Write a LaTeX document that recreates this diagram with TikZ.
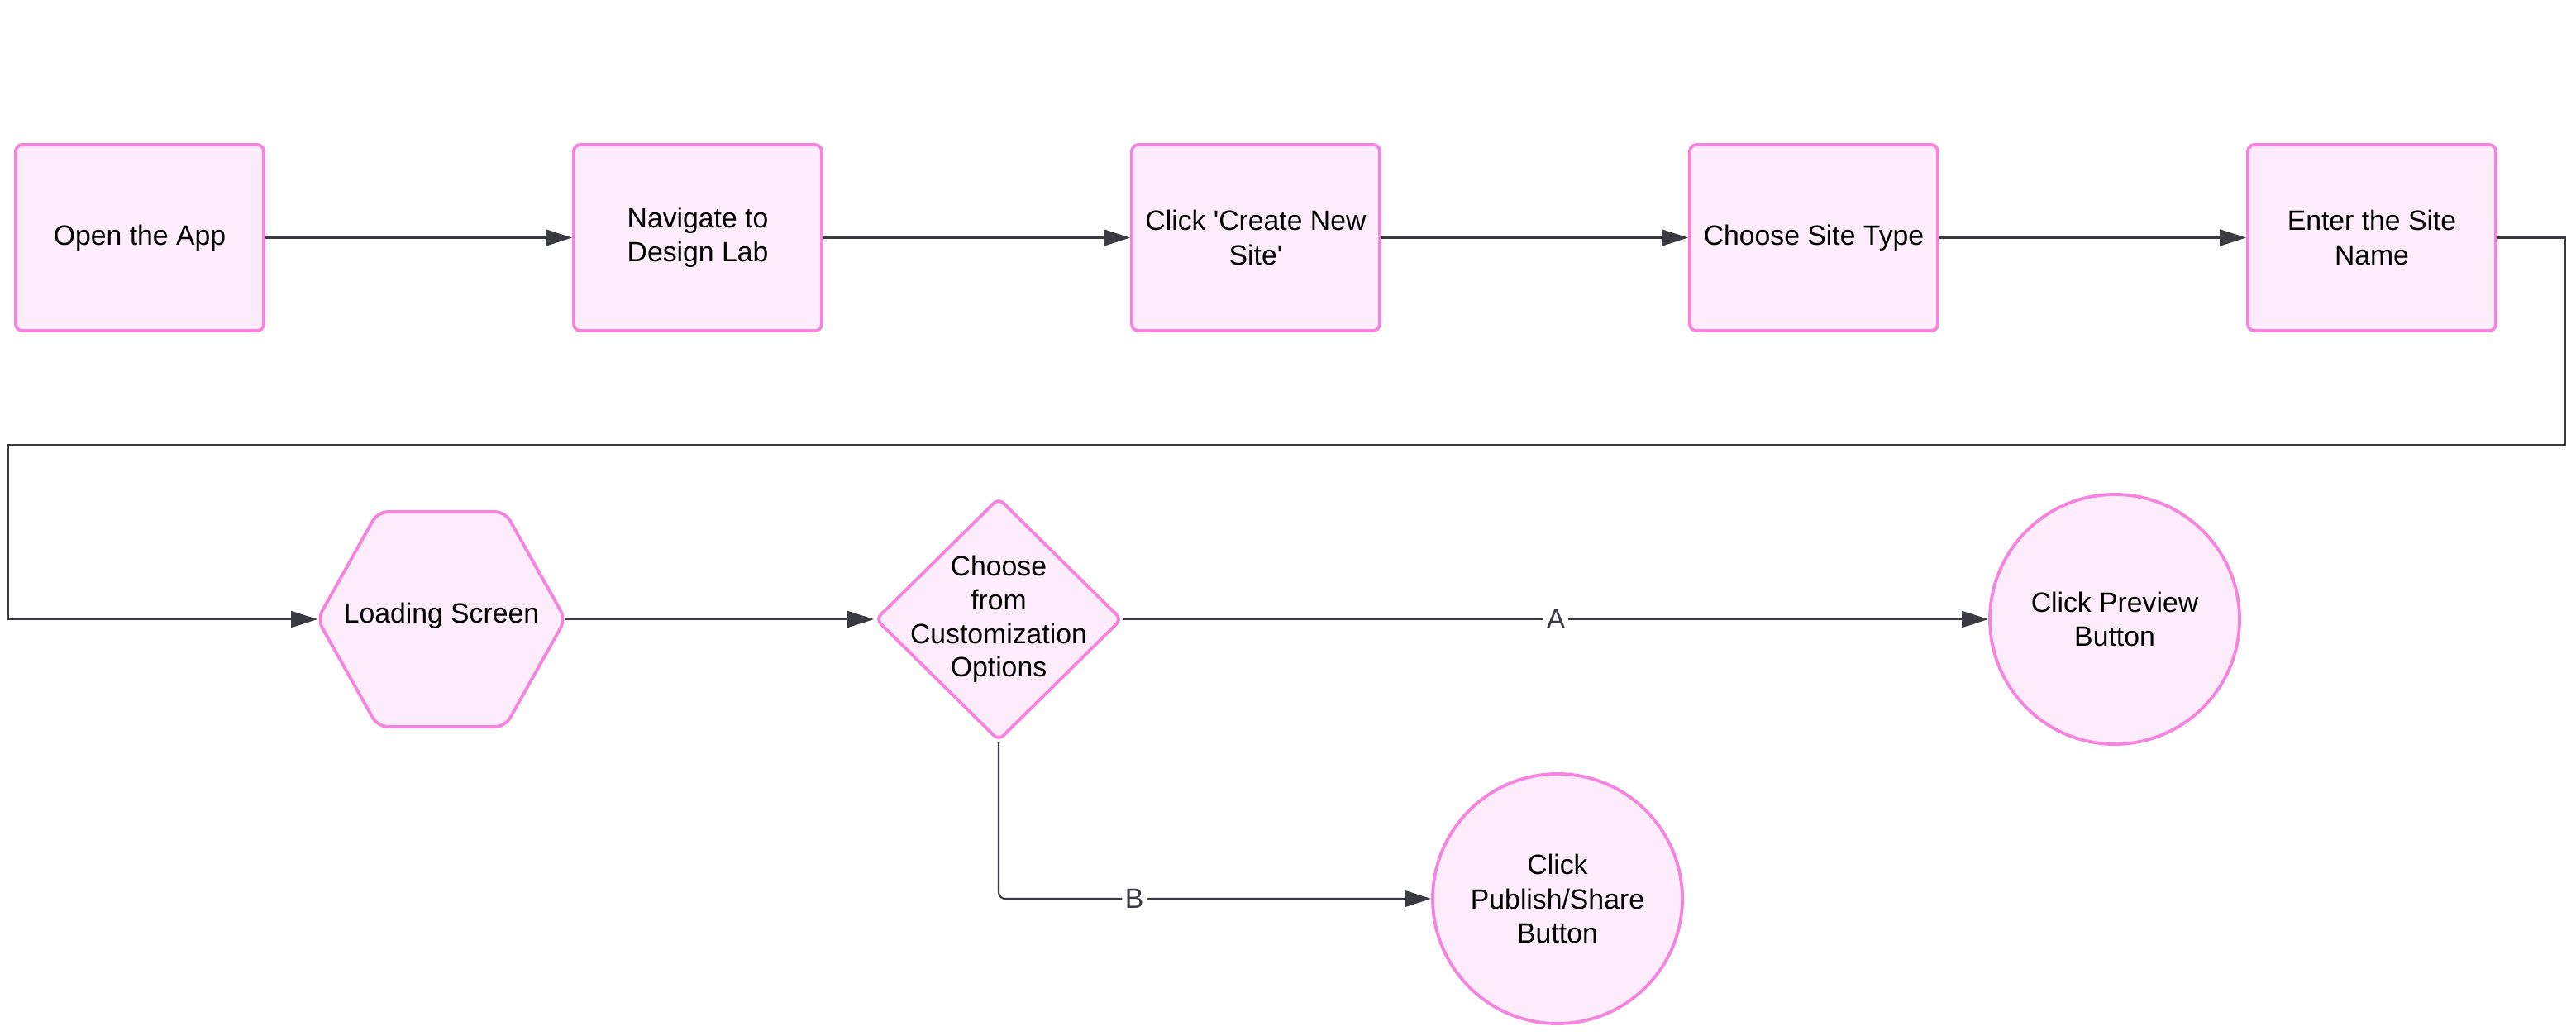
\documentclass[tikz,border=0pt]{standalone}
\usepackage{fontspec}
\setmainfont{Liberation Sans}
\usetikzlibrary{shapes.geometric,arrows.meta}
\definecolor{pinkline}{RGB}{245,132,222}
\definecolor{pinkfill}{RGB}{253,237,252}
\definecolor{edgecol}{RGB}{58,58,66}
\tikzset{
  txt/.style={font=\fontsize{9.6pt}{11.8pt}\selectfont, align=center, text=black},
  shapebase/.style={txt, draw=pinkline, fill=pinkfill, line width=1.1pt},
  procbox/.style={shapebase, rectangle, rounded corners=0.08cm, minimum width=3.0cm, minimum height=2.25cm, inner sep=0pt},
  hexframe/.style={txt, rectangle, minimum width=3.0cm, minimum height=2.6cm, inner sep=0pt, outer sep=0pt},
  hexline/.style={draw=pinkline, fill=pinkfill, line width=1.1pt, rounded corners=0.12cm},
  decbox/.style={shapebase, diamond, minimum width=2.98cm, minimum height=2.94cm, inner sep=0pt, rounded corners=0.08cm},
  endcirc/.style={shapebase, circle, minimum size=3.02cm, inner sep=0pt},
  flow/.style={draw=edgecol, line width=0.6pt, -{Triangle[length=0.32cm, width=0.2cm]}},
  edgelabel/.style={fill=white, inner sep=1pt, text=edgecol, font=\fontsize{9.6pt}{11.8pt}\selectfont}
}
\begin{document}
\begin{tikzpicture}
\useasboundingbox (0,0) rectangle (31.16,-12.52);
\node[procbox] (n1) at (1.69,-2.875) {Open the App};
\node[procbox] (n2) at (8.44,-2.875) {Navigate to\\Design Lab};
\node[procbox] (n3) at (15.19,-2.875) {Click \textquotesingle Create New\\Site\textquotesingle};
\node[procbox] (n4) at (21.94,-2.875) {Choose Site Type};
\node[procbox] (n5) at (28.69,-2.875) {Enter the Site\\Name};
\node[hexframe] (hx) at (5.34,-7.49) {};
\draw[hexline] (hx.west) -- ([xshift=0.73cm]hx.north west) -- ([xshift=-0.73cm]hx.north east) -- (hx.east) -- ([xshift=-0.73cm]hx.south east) -- ([xshift=0.73cm]hx.south west) -- cycle;
\node[txt] (hxtext) at (5.34,-7.45) {Loading Screen};
\node[decbox] (dc) at (12.08,-7.49) {};
\node[txt, font=\fontsize{9.6pt}{11.6pt}\selectfont] (dctext) at (12.08,-7.49) {Choose\\from\\Customization\\Options};
\node[endcirc] (c1) at (25.58,-7.49) {Click Preview\\Button};
\node[endcirc] (c2) at (18.84,-10.87) {Click\\Publish/Share\\Button};
\coordinate (r1) at (31.03,-2.875);
\coordinate (r2) at (31.03,-5.38);
\coordinate (l1) at (0.10,-5.38);
\coordinate (l2) at (0.10,-7.49);
\draw[flow] (n1) -- (n2);
\draw[flow] (n2) -- (n3);
\draw[flow] (n3) -- (n4);
\draw[flow] (n4) -- (n5);
\draw[flow] (n5.east) -- (r1) -- (r2) -- (l1) -- (l2) -- (hx.west);
\draw[flow] (hx.east) -- (dc.west);
\draw[flow] (dc.east) -- node[edgelabel] {A} (c1.west);
\draw[flow, rounded corners=0.08cm] (dc.south) |- node[edgelabel, pos=0.657] {B} (c2.west);
\end{tikzpicture}
\end{document}
